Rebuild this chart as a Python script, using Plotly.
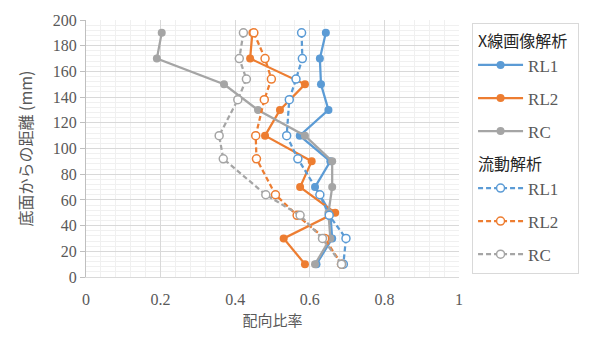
import plotly.graph_objects as go

# Solid series (X線画像解析)
y_xray = [190, 170, 150, 130, 110, 90, 70, 50, 30, 10]
xray_RL1 = [0.643, 0.627, 0.63, 0.65, 0.573, 0.655, 0.614, 0.655, 0.66, 0.618]
xray_RL2 = [0.446, 0.44, 0.587, 0.52, 0.48, 0.605, 0.574, 0.668, 0.53, 0.587]
xray_RC = [0.203, 0.19, 0.37, 0.461, 0.587, 0.66, 0.66, 0.65, 0.655, 0.614]

# Dashed series (流動解析)
y_flow = [190, 170, 154, 138, 110, 92, 64, 48, 30, 10]
flow_RL1 = [0.578, 0.58, 0.563, 0.545, 0.538, 0.568, 0.627, 0.652, 0.697, 0.69]
flow_RL2 = [0.45, 0.48, 0.497, 0.478, 0.455, 0.457, 0.508, 0.566, 0.64, 0.685]
flow_RC = [0.422, 0.411, 0.43, 0.407, 0.357, 0.368, 0.482, 0.574, 0.634, 0.685]

names = ["RL1", "RL2", "RC"]
colors = ["#5B9BD5", "#ED7D31", "#A5A5A5"]
x_ticks = [0, 0.2, 0.4, 0.6, 0.8, 1]
x_ticklabels = ["0", "0.2", "0.4", "0.6", "0.8", "1"]

FONT = "Liberation Serif"
JP_FONT = "Noto Sans CJK JP"

fig = go.Figure()
for i, (xs, n, c) in enumerate(zip([xray_RL1, xray_RL2, xray_RC], names, colors)):
    fig.add_trace(go.Scatter(
        x=xs, y=y_xray, mode="lines+markers", name=n,
        line=dict(color=c, width=2.25),
        marker=dict(color=c, size=8, symbol="circle"),
        legendgroup="xray%d" % i,
        legendgrouptitle=dict(text="X線画像解析", font=dict(family=JP_FONT, size=16, color="#262626")) if i == 0 else None,
    ))
for i, (xs, n, c) in enumerate(zip([flow_RL1, flow_RL2, flow_RC], names, colors)):
    fig.add_trace(go.Scatter(
        x=xs, y=y_flow, mode="lines+markers", name=n,
        line=dict(color=c, width=2.25, dash="5px,3px"),
        marker=dict(color="white", size=8, symbol="circle", line=dict(color=c, width=1.5)),
        legendgroup="flow%d" % i,
        legendgrouptitle=dict(text="流動解析", font=dict(family=JP_FONT, size=16, color="#262626")) if i == 0 else None,
    ))

fig.update_layout(
    width=613, height=339,
    margin=dict(l=86, r=154, t=17, b=62),
    paper_bgcolor="white", plot_bgcolor="white",
    font=dict(family=FONT, size=16, color="#595959"),
    showlegend=True,
    legend=dict(
        x=1.035, y=0.99, xanchor="left", yanchor="top",
        bordercolor="#D9D9D9", borderwidth=1,
        font=dict(family=FONT, size=17, color="#595959"),
        tracegroupgap=8, traceorder="grouped",
        itemwidth=45,
    ),
    xaxis=dict(
        range=[0, 1], tickvals=x_ticks, ticktext=x_ticklabels,
        tickfont=dict(family=FONT, size=16),
        showgrid=True, gridcolor="#D9D9D9", gridwidth=1,
        minor=dict(dtick=0.04, showgrid=True, gridcolor="#F0F0F0", gridwidth=1),
        zeroline=False, showline=True, linecolor="#D9D9D9",
        ticks="outside", ticklen=8, tickcolor="rgba(0,0,0,0)",
        title=dict(text="配向比率", font=dict(family=JP_FONT, size=15, color="#595959"), standoff=8),
    ),
    yaxis=dict(
        range=[0, 200], dtick=20, tick0=0,
        tickfont=dict(family=FONT, size=16),
        showgrid=True, gridcolor="#D9D9D9", gridwidth=1,
        minor=dict(dtick=4, showgrid=True, gridcolor="#F0F0F0", gridwidth=1),
        zeroline=False, showline=True, linecolor="#BFBFBF",
        ticks="outside", ticklen=5, tickcolor="#BFBFBF",
        title=dict(text="底面からの距離 (mm)", font=dict(family=JP_FONT, size=16, color="#595959"), standoff=16),
    ),
)

fig.write_html("out.html")
